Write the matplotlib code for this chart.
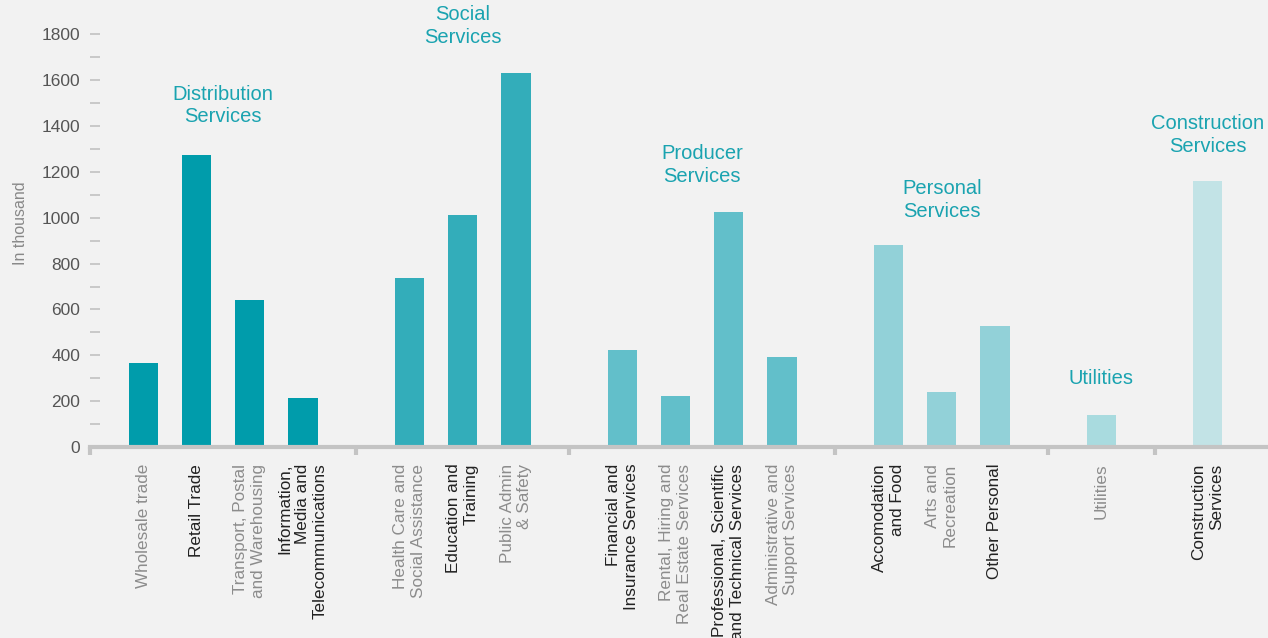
import matplotlib
matplotlib.use("Agg")
import matplotlib.pyplot as plt

categories = ["Wholesale trade", "Retail Trade", "Transport, Postal\nand Warehousing",
              "Information,\nMedia and\nTelecommunications",
              "Health Care and\nSocial Assistance", "Education and\nTraining", "Public Admin\n& Safety",
              "Financial and\nInsurance Services", "Rental, Hiring and\nReal Estate Services",
              "Professional, Scientific\nand Technical Services", "Administrative and\nSupport Services",
              "Accomodation\nand Food", "Arts and\nRecreation", "Other Personal",
              "Utilities", "Construction\nServices"]
values = [367, 1275, 642, 214, 738, 1010, 1632, 424, 223, 1027, 393, 882, 240, 529, 140, 1160]
group_of = [0, 0, 0, 0, 1, 1, 1, 2, 2, 2, 2, 3, 3, 3, 4, 5]
group_names = ["Distribution\nServices", "Social\nServices", "Producer\nServices",
               "Personal\nServices", "Utilities", "Construction\nServices"]
group_colors = ["#009cab", "#33adba", "#62bfca", "#92d1d8", "#a9dbdf", "#c2e3e6"]
group_label_y = [1490, 1835, 1230, 1077, 297, 1360]

plt.rcParams['font.family'] = ['Liberation Sans', 'DejaVu Sans']

# positions: one empty slot between groups
positions = []
seps = [-1]
pos = 0
prev = 0
for g in group_of:
    if g != prev:
        seps.append(pos)
        pos += 1
        prev = g
    positions.append(pos)
    pos += 1

fig = plt.figure(figsize=(12.68, 6.38), dpi=100, facecolor="#f2f2f2")
ax = fig.add_axes([0.071, 0.2994, 0.929, 0.7006])
ax.set_facecolor("#f2f2f2")

colors = [group_colors[g] for g in group_of]
ax.bar(positions, values, width=0.55, color=colors, zorder=2)

ax.set_ylim(0, 1950)
ax.set_xlim(-1, 21.13)

# group labels
for gi, name in enumerate(group_names):
    xs = [p for p, g in zip(positions, group_of) if g == gi]
    xc = (xs[0] + xs[-1]) / 2
    ax.text(xc, group_label_y[gi], name, ha="center", va="center", fontsize=14.5,
            color="#1aa3b0", linespacing=1.25, clip_on=False)

for s in ["top", "right", "left"]:
    ax.spines[s].set_visible(False)
ax.spines["bottom"].set_color("#c4c4c4")
ax.spines["bottom"].set_linewidth(3)
ax.spines["bottom"].set_zorder(3)

ax.set_yticks(range(0, 1801, 200))
ax.set_yticks(range(100, 1800, 200), minor=True)
ax.tick_params(axis="y", which="both", direction="in", length=7.2, width=1.1,
               color="#bdbdbd", pad=7, labelsize=12.5, labelcolor="#555555")

ax.set_xticks(seps)
ax.set_xticklabels([""] * len(seps))
ax.tick_params(axis="x", which="major", direction="out", length=6, width=3, color="#c4c4c4")
ax.set_xticks(positions, minor=True)
ax.set_xticklabels(categories, minor=True, rotation=90, ha="center", va="top",
                   fontsize=12.3, linespacing=1.22, multialignment="right")
ax.tick_params(axis="x", which="minor", length=0, pad=12)
for i, lab in enumerate(ax.get_xticklabels(minor=True)):
    lab.set_color("#8c8c8c" if i % 2 == 0 else "#222222")

ax.set_ylabel("In thousand", fontsize=11.5, color="#888888", labelpad=10)

fig.savefig("out.png", dpi=100, facecolor="#f2f2f2")
